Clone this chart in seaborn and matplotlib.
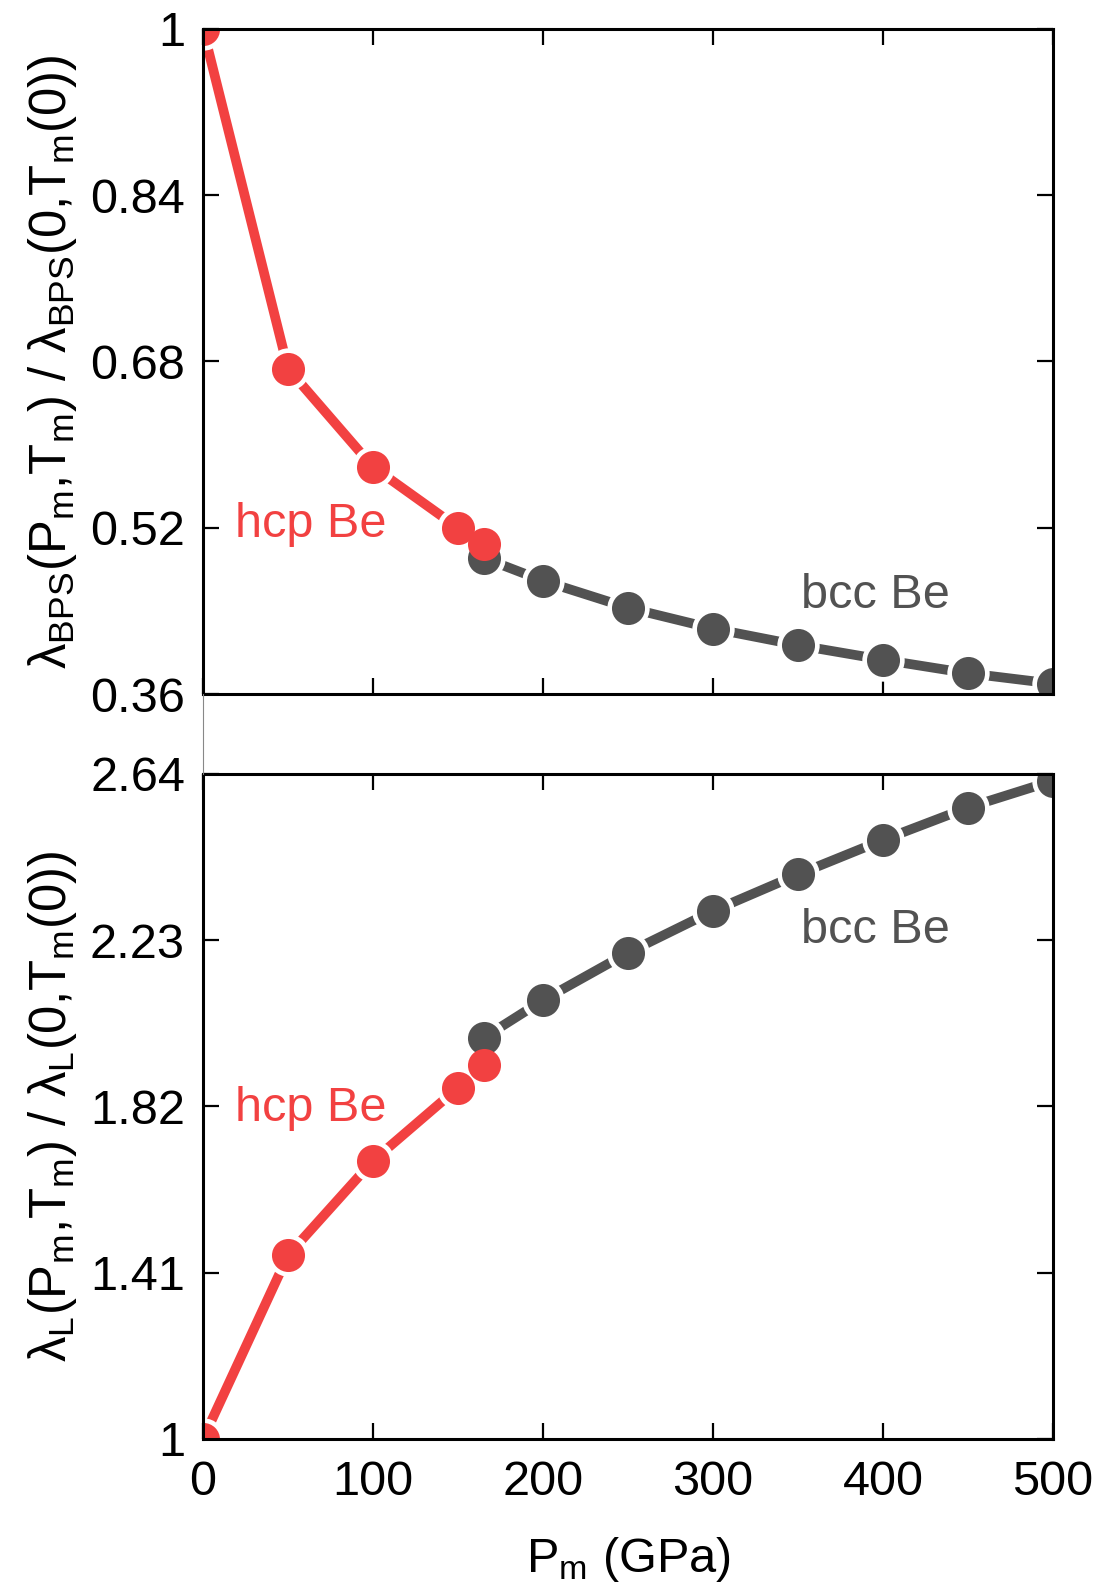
import matplotlib
matplotlib.use('Agg')
import matplotlib.pyplot as plt
import seaborn as sns
from matplotlib.lines import Line2D

# ==============================================================================
# DATA
# ==============================================================================
pressure_hcp = [0, 50, 100, 150, 165]
pressure_bcc = [165, 200, 250, 300, 350, 400, 450, 500]

bps_hcp = [1.0, 0.673, 0.5785, 0.520, 0.504]
bps_bcc = [0.491, 0.469, 0.443, 0.423, 0.407, 0.393, 0.380, 0.370]

lind_hcp = [1.0, 1.453, 1.686, 1.866, 1.921]
lind_bcc = [1.989, 2.082, 2.199, 2.302, 2.392, 2.477, 2.557, 2.623]

x_ticks = [0, 100, 200, 300, 400, 500]
x_tick_labels = ['0', '100', '200', '300', '400', '500']
bps_ticks = [0.36, 0.52, 0.68, 0.84, 1.0]
bps_tick_labels = ['0.36', '0.52', '0.68', '0.84', '1']
lind_ticks = [1.0, 1.41, 1.82, 2.23, 2.64]
lind_tick_labels = ['1', '1.41', '1.82', '2.23', '2.64']

# ==============================================================================
# STYLE
# ==============================================================================
RED = '#f24141'
GREY = '#525252'
FS = 35
LW = 7
MARKER_PT = 23.8
HALO_PT = 30.5

sns.set_style('ticks')
plt.rcParams['font.family'] = ['Liberation Sans', 'DejaVu Sans']
plt.rcParams['mathtext.fontset'] = 'custom'
plt.rcParams['mathtext.rm'] = 'Liberation Sans'
plt.rcParams['mathtext.it'] = 'Liberation Sans:italic'
plt.rcParams['mathtext.bf'] = 'Liberation Sans:bold'
plt.rcParams['text.color'] = 'black'
plt.rcParams['axes.labelcolor'] = 'black'
plt.rcParams['xtick.color'] = 'black'
plt.rcParams['ytick.color'] = 'black'


def draw_series(ax, xs_list, ys_list, colors):
    """Lines, then white halos (gaps around points), then the points."""
    for xs, ys, c in zip(xs_list, ys_list, colors):
        sns.lineplot(x=xs, y=ys, color=c, linewidth=LW, sort=False,
                     estimator=None, ax=ax, zorder=2,
                     solid_capstyle='round')
    for xs, ys in zip(xs_list, ys_list):
        sns.scatterplot(x=xs, y=ys, color='white', s=HALO_PT ** 2,
                        linewidth=0, ax=ax, zorder=3)
    for xs, ys, c in zip(xs_list, ys_list, colors):
        sns.scatterplot(x=xs, y=ys, color=c, s=MARKER_PT ** 2,
                        linewidth=0, ax=ax, zorder=4)


def style_axes(ax):
    for sp in ax.spines.values():
        sp.set_visible(True)
        sp.set_linewidth(2.2)
        sp.set_color('black')
        sp.set_zorder(5)
    ax.tick_params(direction='in', length=11.5, width=1.6, top=True,
                   right=True, labelsize=FS, colors='black')
    ax.tick_params(axis='y', pad=13)
    ax.tick_params(axis='x', pad=15)
    ax.set_xlim(0, 500)
    ax.set_xticks(x_ticks)


# ==============================================================================
# FIGURE
# ==============================================================================
fig = plt.figure(figsize=(11.01, 15.90), dpi=100)
ax_top = fig.add_axes([0.1844, 0.5635, 0.772, 0.4183])
ax_bot = fig.add_axes([0.1844, 0.0950, 0.772, 0.4183])

# --- top panel: BPS ---
draw_series(ax_top, [pressure_bcc, pressure_hcp], [bps_bcc, bps_hcp], [GREY, RED])
style_axes(ax_top)
ax_top.set_ylim(0.36, 1.0)
ax_top.set_yticks(bps_ticks)
ax_top.set_yticklabels(bps_tick_labels)
ax_top.set_xticklabels([])
ax_top.set_xlabel('')
ax_top.set_ylabel(r'λ$_{\mathrm{BPS}}$(P$_{\mathrm{m}}$,T$_{\mathrm{m}}$) / '
                  r'λ$_{\mathrm{BPS}}$(0,T$_{\mathrm{m}}$(0))',
                  fontsize=36.5, labelpad=8)
ax_top.text(19, 0.511, 'hcp Be', color=RED, fontsize=FS, va='baseline')
ax_top.text(352, 0.4427, 'bcc Be', color=GREY, fontsize=FS, va='baseline')

# --- bottom panel: Lindemann ---
draw_series(ax_bot, [pressure_bcc, pressure_hcp], [lind_bcc, lind_hcp], [GREY, RED])
style_axes(ax_bot)
ax_bot.set_ylim(1.0, 2.64)
ax_bot.set_yticks(lind_ticks)
ax_bot.set_yticklabels(lind_tick_labels)
ax_bot.set_xticklabels(x_tick_labels)
ax_bot.set_xlabel(r'P$_{\mathrm{m}}$ (GPa)', fontsize=FS, labelpad=22)
ax_bot.set_ylabel(r'λ$_{\mathrm{L}}$(P$_{\mathrm{m}}$,T$_{\mathrm{m}}$) / '
                  r'λ$_{\mathrm{L}}$(0,T$_{\mathrm{m}}$(0))',
                  fontsize=36.5, labelpad=8)
ax_bot.text(19, 1.784, 'hcp Be', color=RED, fontsize=FS, va='baseline')
ax_bot.text(352, 2.223, 'bcc Be', color=GREY, fontsize=FS, va='baseline')

# thin connector between the two left spines
fig.add_artist(Line2D([0.1844, 0.1844], [0.5135, 0.5635],
                      transform=fig.transFigure, color='#888888', linewidth=0.8))

fig.savefig('out.png', dpi=100)
print("saved out.png")
